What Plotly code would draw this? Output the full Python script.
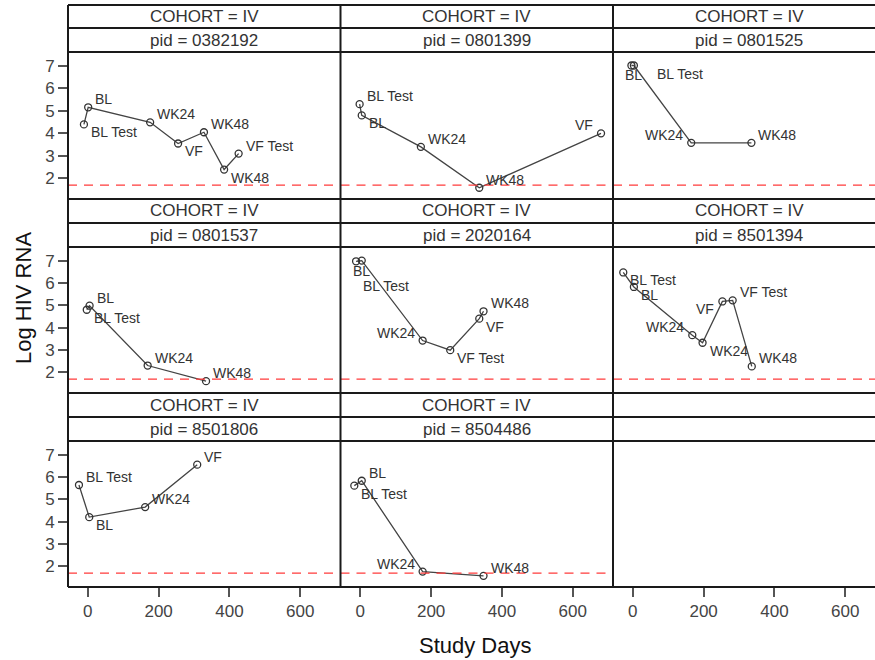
import plotly.graph_objects as go

# ---------------- data ----------------
cohort = "IV"
pids = ["0382192", "0801399", "0801525", "0801537", "2020164", "8501394", "8501806", "8504486"]

study_days = [
    [-11, 1, 176, 255, 328, 385, 426],
    [-2, 4, 171, 336, 680],
    [-4, 3, 165, 335],
    [-3, 5, 169, 334],
    [-12, 4, 176, 254, 336, 348],
    [-27, 3, 168, 197, 253, 282, 336],
    [-25, 4, 162, 309],
    [-17, 4, 176, 348],
]
log_rna = [
    [4.40, 5.16, 4.49, 3.55, 4.05, 2.39, 3.10],
    [5.30, 4.80, 3.40, 1.58, 4.00],
    [7.02, 7.02, 3.58, 3.58],
    [4.81, 4.99, 2.31, 1.61],
    [6.98, 7.01, 3.43, 3.00, 4.41, 4.74],
    [6.48, 5.83, 3.67, 3.33, 5.18, 5.23, 2.27],
    [5.65, 4.21, 4.66, 6.56],
    [5.62, 5.84, 1.77, 1.58],
]
visits = [
    ["BL Test", "BL", "WK24", "VF", "WK48", "WK48", "VF Test"],
    ["BL Test", "BL", "WK24", "WK48", "VF"],
    ["BL Test", "BL", "WK24", "WK48"],
    ["BL Test", "BL", "WK24", "WK48"],
    ["BL Test", "BL", "WK24", "VF Test", "VF", "WK48"],
    ["BL Test", "BL", "WK24", "WK24", "VF", "VF Test", "WK48"],
    ["BL Test", "BL", "WK24", "VF"],
    ["BL Test", "BL", "WK24", "WK48"],
]
limit_log = 1.699  # log10(50) detection limit
x_ticks = [0, 200, 400, 600]
y_ticks = [2, 3, 4, 5, 6, 7]

# ---------------- label placement (style) ----------------
label_pos = [
    ["lr", "ur", "ur", "lr", "ur", "lr", "ur"],
    ["ur", "lr", "ur", "ur", "ul"],
    ["far", "b", "ul", "ur"],
    ["lr", "ur", "ur", "ur"],
    ["low", "b", "ul", "lr", "lr", "ur"],
    ["lr", "lr", "ul", "lr", "ll", "ur", "ur"],
    ["ur", "lr", "ur", "ur"],
    ["lr", "ur", "ul", "ur"],
]
pos_style = {
    "ur": ("left", 5, 8),
    "lr": ("left", 5, -8),
    "ul": ("right", -6, 8),
    "ll": ("right", -6, -8),
    "b": ("center", 0, -10),
    "far": ("left", 24, -9),
    "low": ("left", 5, -25),
}

# ---------------- geometry ----------------
W, H = 875, 660
ML, MR, MT, MB = 68, 0, 5, 73
PW, PH = W - ML - MR, H - MT - MB
px_per_day = 0.354

def fx(px):
    return (px - ML) / PW

def fy(py):
    return (H - MB - py) / PH

col_edges = [(68, 340.5), (340.5, 613), (613, 875)]
row_plot = [(52, 199), (247, 393), (441, 587)]
row_head = [(5, 28, 52), (199, 223, 247), (393, 417, 441)]
x_start = -56
y_range = [1.08, 7.62]

FONT = "Liberation Sans, Arial, sans-serif"
TXT = "#333333"

fig = go.Figure()
layout = dict(
    width=W, height=H, margin=dict(l=ML, r=MR, t=MT, b=MB),
    paper_bgcolor="white", plot_bgcolor="white", showlegend=False,
    font=dict(family=FONT, color=TXT),
)
annotations = []
shapes = []

for k in range(9):
    r, c = divmod(k, 3)
    ax = "" if k == 0 else str(k + 1)
    x0p, x1p = col_edges[c]
    y0p, y1p = row_plot[r]
    x_end = x_start + (x1p - x0p) / px_per_day
    layout["xaxis" + ax] = dict(
        domain=[fx(x0p), min(1, fx(x1p))], range=[x_start, x_end],
        anchor="y" + ax, showgrid=False, zeroline=False, showline=False,
        tickvals=x_ticks, showticklabels=(r == 2), ticks="outside" if r == 2 else "",
        ticklen=9, tickcolor="#555555", tickwidth=1.5,
        tickfont=dict(size=17, color="#444444", family=FONT),
    )
    layout["yaxis" + ax] = dict(
        domain=[fy(y1p), fy(y0p)], range=y_range,
        anchor="x" + ax, showgrid=False, zeroline=False, showline=False,
        tickvals=y_ticks, showticklabels=(c == 0), ticks="outside" if c == 0 else "",
        ticklen=9, tickcolor="#555555", tickwidth=1.5,
        tickfont=dict(size=17, color="#444444", family=FONT),
    )

    # header texts
    hy0, hy1, hy2 = row_head[r]
    cx = (x0p + x1p) / 2 if c < 2 else (x0p + x0p + 272.5) / 2
    if k < len(pids):
        annotations.append(dict(xref="paper", yref="paper", x=fx(cx), y=fy((hy0 + hy1) / 2),
                                text="COHORT = " + cohort, showarrow=False,
                                font=dict(size=17, color=TXT, family=FONT),
                                xanchor="center", yanchor="middle"))
        annotations.append(dict(xref="paper", yref="paper", x=fx(cx), y=fy((hy1 + hy2) / 2),
                                text="pid = " + pids[k], showarrow=False,
                                font=dict(size=17, color=TXT, family=FONT),
                                xanchor="center", yanchor="middle"))

    if k >= len(pids):
        # empty panel: invisible trace so that its axis is drawn
        fig.add_trace(go.Scatter(x=[None], y=[None], xaxis="x" + ax, yaxis="y" + ax,
                                 mode="markers", hoverinfo="skip"))
        continue

    # reference line
    shapes.append(dict(type="line", xref="x" + ax + " domain", yref="y" + ax,
                       x0=0, x1=1, y0=limit_log, y1=limit_log,
                       line=dict(color="#ff3b3b", width=1.3, dash="9px,7px")))

    fig.add_trace(go.Scatter(
        x=study_days[k], y=log_rna[k], xaxis="x" + ax, yaxis="y" + ax,
        mode="lines+markers",
        line=dict(color="#444444", width=1.3),
        marker=dict(symbol="circle-open", size=7, color="#333333", line=dict(width=1.3)),
        hoverinfo="skip",
    ))
    for d, v, lab, p in zip(study_days[k], log_rna[k], visits[k], label_pos[k]):
        xa, xs, ys = pos_style[p]
        annotations.append(dict(xref="x" + ax, yref="y" + ax, x=d, y=v, text=lab,
                                showarrow=False, xanchor=xa, yanchor="middle",
                                xshift=xs, yshift=ys,
                                font=dict(size=14, color=TXT, family=FONT)))

# frame lines
LC = "#1a1a1a"
for (a, b, cc) in row_head:
    for yy in (a, b, cc):
        shapes.append(dict(type="line", xref="paper", yref="paper",
                           x0=fx(68), x1=fx(880), y0=fy(yy), y1=fy(yy),
                           line=dict(color=LC, width=2)))
for yy in (199, 393, 587):
    shapes.append(dict(type="line", xref="paper", yref="paper",
                       x0=fx(68), x1=fx(880), y0=fy(yy), y1=fy(yy),
                       line=dict(color=LC, width=2)))
for xx in (68, 340.5, 613):
    shapes.append(dict(type="line", xref="paper", yref="paper",
                       x0=fx(xx), x1=fx(xx), y0=fy(5), y1=fy(587),
                       line=dict(color=LC, width=2)))

# axis titles
annotations.append(dict(xref="paper", yref="paper", x=fx(23), y=fy(298), text="Log HIV RNA",
                        textangle=-90, showarrow=False, xanchor="center", yanchor="middle",
                        font=dict(size=22, color="#111111", family=FONT)))
annotations.append(dict(xref="paper", yref="paper", x=fx(476), y=fy(645), text="Study Days",
                        showarrow=False, xanchor="center", yanchor="middle",
                        font=dict(size=22, color="#111111", family=FONT)))

layout["annotations"] = annotations
layout["shapes"] = shapes
fig.update_layout(**layout)
fig.write_html("out.html")
